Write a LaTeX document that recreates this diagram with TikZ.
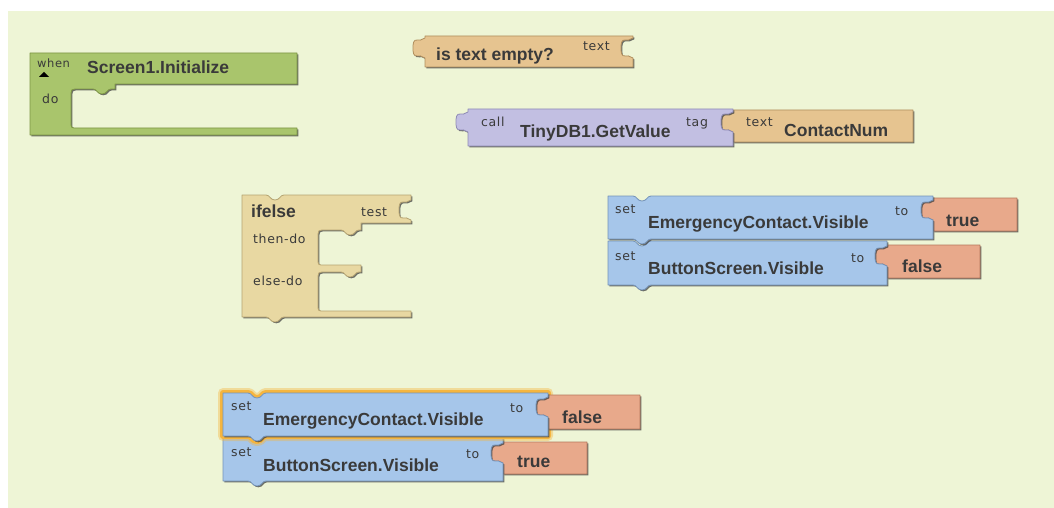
\documentclass[tikz,border=0pt]{standalone}
\usepackage{fontspec}
\setmainfont{Liberation Sans}
\newfontfamily\lblfont[LetterSpace=5]{DejaVu Sans}

\definecolor{canvas}{HTML}{EEF5D6}
\definecolor{ink}{HTML}{3A3A3A}
\definecolor{evgreen}{HTML}{A9C56C}\definecolor{evgreenD}{HTML}{7D9645}
\definecolor{txttan}{HTML}{E6C490}\definecolor{txttanD}{HTML}{B08F5E}
\definecolor{dbpurple}{HTML}{C2BFE2}\definecolor{dbpurpleD}{HTML}{8F8BB5}
\definecolor{ctlkhaki}{HTML}{E8D8A2}\definecolor{ctlkhakiD}{HTML}{B5A472}
\definecolor{setblue}{HTML}{A6C6EA}\definecolor{setblueD}{HTML}{7593B8}
\definecolor{logicsalmon}{HTML}{E8A98B}\definecolor{logicsalmonD}{HTML}{B5775C}
\definecolor{selglow}{HTML}{F5B53F}

% statement notch / tab, path running rightwards (dips down)
\newcommand\tabR[2]{-- (#1,#2) .. controls ({#1+4},#2) and ({#1+4},{#2+5}) .. ({#1+9},{#2+5}) .. controls ({#1+14},{#2+5}) and ({#1+14},#2) .. ({#1+18},#2)}
% statement notch / tab, path running leftwards (dips down)
\newcommand\tabL[2]{-- ({#1+18},#2) .. controls ({#1+14},#2) and ({#1+14},{#2+5}) .. ({#1+9},{#2+5}) .. controls ({#1+4},{#2+5}) and ({#1+4},#2) .. (#1,#2)}
% value socket on a right edge, path running down
\newcommand\sock[2]{-- (#1,#2) .. controls ({#1-3},#2) and ({#1-3},{#2+3}) .. ({#1-7},{#2+2}) .. controls ({#1-12},{#2+1}) and ({#1-12},{#2+6}) .. ({#1-12},{#2+10}) .. controls ({#1-12},{#2+14}) and ({#1-12},{#2+19}) .. ({#1-7},{#2+18}) .. controls ({#1-3},{#2+17}) and ({#1-3},{#2+20}) .. (#1,{#2+20})}
% value plug on a left edge, path running up
\newcommand\knob[2]{-- (#1,{#2+20}) .. controls ({#1-3},{#2+20}) and ({#1-3},{#2+17}) .. ({#1-7},{#2+18}) .. controls ({#1-12},{#2+19}) and ({#1-12},{#2+14}) .. ({#1-12},{#2+10}) .. controls ({#1-12},{#2+6}) and ({#1-12},{#2+1}) .. ({#1-7},{#2+2}) .. controls ({#1-3},{#2+3}) and ({#1-3},#2) .. (#1,#2)}
% one block: shadow, then body
\newcommand\blk[3]{%
  \fill[black!75,opacity=.75,shift={(1.3,1.3)}] #1;
  \filldraw[fill=#2,draw=#3,line width=.8pt,line join=round] #1;}

\tikzset{
  title/.style={anchor=base west,inner sep=0pt,text=ink,font=\fontsize{17.5}{20}\selectfont\bfseries},
  lbl/.style={anchor=base west,inner sep=0pt,text=ink,font=\lblfont\fontsize{12.5}{14}\selectfont},
}

\begin{document}
\begin{tikzpicture}[x=1pt,y=-1pt]
\useasboundingbox (0,0) rectangle (1054,508);
\fill[canvas] (8,11) rectangle (1054,508);

% when Screen1.Initialize
\blk{(30,53) -- (297,53) -- (297,84) -- (115,84) -- (115,89) \tabL{93}{89} -- (75,89) .. controls (72,89) and (71,90) .. (71,93) -- (71,125) .. controls (71,127) and (72,128) .. (74,128) -- (297,128) -- (297,135) -- (30,135) -- cycle}{evgreen}{evgreenD}
\node[lbl,font=\lblfont\fontsize{11.5}{13}\selectfont] (when) at (37,68) {when};
\fill[black] (39,77) -- (49,77) -- (44,72) -- cycle;
\node[title] (init) at (87,74) {Screen1.Initialize};
\node[lbl] (do) at (42,103) {do};

% is text empty?
\blk{(425,36) -- (633,36) \sock{633}{38} -- (633,67) -- (425,67) \knob{425}{38} -- cycle}{txttan}{txttanD}
\node[title] (empty) at (436,60.5) {is text empty?};
\node[lbl] (emptyarg) at (583,51) {text};

% call TinyDB1.GetValue with a text argument
\blk{(733,110) -- (913,110) -- (913,142) -- (733,142) \knob{733}{112} -- cycle}{txttan}{txttanD}
\blk{(468,109) -- (733,109) \sock{733}{112} -- (733,146) -- (468,146) \knob{468}{112} -- cycle}{dbpurple}{dbpurpleD}
\node[lbl] (call) at (481,127) {call};
\node[title] (getval) at (520,138) {TinyDB1.GetValue};
\node[lbl] (tag) at (686,127) {tag};
\node[lbl] (txtkw) at (746,127) {text};
\node[title] (cnum) at (784,136) {ContactNum};

% ifelse
\blk{(242,195) \tabR{266}{195} -- (411,195) \sock{411}{200} -- (411,223) -- (361,223) -- (361,230) \tabL{341}{230} -- (322,230) .. controls (319,230) and (318,231) .. (318,234) -- (318,262) .. controls (318,264) and (319,265) .. (321,265) -- (361,265) -- (361,272) \tabL{341}{272} -- (322,272) .. controls (319,272) and (318,273) .. (318,276) -- (318,308) .. controls (318,310) and (319,311) .. (321,311) -- (411,311) -- (411,317) \tabL{266}{317} -- (242,317) -- cycle}{ctlkhaki}{ctlkhakiD}
\node[title] (ifelse) at (251,217) {ifelse};
\node[lbl] (test) at (361,216) {test};
\node[lbl] (thendo) at (253,243) {then-do};
\node[lbl] (elsedo) at (253,285) {else-do};

% set pair, upper right
\blk{(887,245) -- (980,245) -- (980,278) -- (887,278) \knob{887}{246} -- cycle}{logicsalmon}{logicsalmonD}
\blk{(608,241) \tabR{633}{241} -- (887,241) \sock{887}{246} -- (887,285) \tabL{633}{285} -- (608,285) -- cycle}{setblue}{setblueD}
\blk{(933,198) -- (1017,198) -- (1017,231) -- (933,231) \knob{933}{200} -- cycle}{logicsalmon}{logicsalmonD}
\blk{(608,196) \tabR{633}{196} -- (933,196) \sock{933}{200} -- (933,239) \tabL{633}{239} -- (608,239) -- cycle}{setblue}{setblueD}
\node[lbl] (setA) at (615,213) {set};
\node[title] (propA) at (648,228) {EmergencyContact.Visible};
\node[lbl] (toA) at (895,215) {to};
\node[title] (valA) at (946,226) {true};
\node[lbl] (setB) at (615,260) {set};
\node[title] (propB) at (648,274) {ButtonScreen.Visible};
\node[lbl] (toB) at (851,262) {to};
\node[title] (valB) at (902,272) {false};

% set pair, bottom (first one selected)
\blk{(503,442) -- (587,442) -- (587,474) -- (503,474) \knob{503}{443} -- cycle}{logicsalmon}{logicsalmonD}
\blk{(223,438) \tabR{248}{438} -- (503,438) \sock{503}{443} -- (503,481) \tabL{248}{481} -- (223,481) -- cycle}{setblue}{setblueD}
\draw[selglow,line width=10pt,opacity=.4,line join=round] (223,393) \tabR{248}{393} -- (548,393) -- (548,436) \tabL{248}{436} -- (223,436) -- cycle;
\draw[selglow,line width=6pt,line join=round] (223,393) \tabR{248}{393} -- (548,393) -- (548,436) \tabL{248}{436} -- (223,436) -- cycle;
\blk{(548,395) -- (640,395) -- (640,429) -- (548,429) \knob{548}{397} -- cycle}{logicsalmon}{logicsalmonD}
\blk{(223,393) \tabR{248}{393} -- (548,393) \sock{548}{397} -- (548,436) \tabL{248}{436} -- (223,436) -- cycle}{setblue}{setblueD}
\node[lbl] (setC) at (231,410) {set};
\node[title] (propC) at (263,425) {EmergencyContact.Visible};
\node[lbl] (toC) at (510,412) {to};
\node[title] (valC) at (562,423) {false};
\node[lbl] (setD) at (231,456) {set};
\node[title] (propD) at (263,471) {ButtonScreen.Visible};
\node[lbl] (toD) at (466,458) {to};
\node[title] (valD) at (517,467) {true};
\end{tikzpicture}
\end{document}
